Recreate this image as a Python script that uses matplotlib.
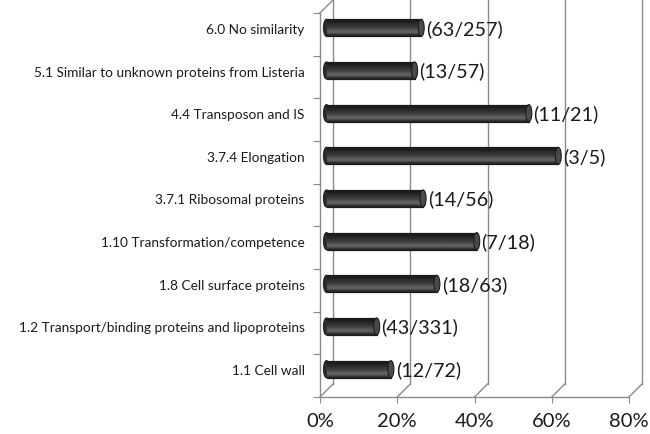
import matplotlib
matplotlib.use('Agg')
import matplotlib.pyplot as plt
import numpy as np
from matplotlib.patches import Ellipse

plt.rcParams['font.family'] = ['Lato', 'DejaVu Sans']

categories = ['1.1 Cell wall',
              '1.2 Transport/binding proteins and lipoproteins',
              '1.8 Cell surface proteins',
              '1.10 Transformation/competence',
              '3.7.1 Ribosomal proteins',
              '3.7.4 Elongation',
              '4.4 Transposon and IS',
              '5.1 Similar to unknown proteins from Listeria',
              '6.0 No similarity']
hits = [12, 43, 18, 7, 14, 3, 11, 13, 63]
totals = [72, 331, 63, 18, 56, 5, 21, 57, 257]
xticks = [0, 20, 40, 60, 80]

pct = [100.0 * h / t for h, t in zip(hits, totals)]
labels = ['(%d/%d)' % (h, t) for h, t in zip(hits, totals)]

W, H = 650, 435
fig = plt.figure(figsize=(6.5, 4.35), dpi=100)
# front floor: x 320..629 px, y 398 px ; top of plot at 2 px
ax = fig.add_axes([320 / W, (H - 398) / H, (629 - 320) / W, (398 - 2) / H])

n = len(categories)
px_per_x = (629 - 320) / 80.0
px_per_y = (398 - 14) / float(n)
dx = 13 / px_per_x     # depth offset (data units)
dy = 13 / px_per_y
ytop = n - 0.5
ybot = -0.5

line_col = '#8a8a8a'
lw = 1.0

# back wall gridlines + floor slants
for xv in xticks:
    if xv == 0:
        continue
    ax.plot([xv + dx, xv + dx], [ybot + dy, ytop + dy + 0.2], color=line_col, lw=lw, clip_on=False, zorder=1)
    ax.plot([xv, xv + dx], [ybot, ybot + dy], color=line_col, lw=lw, clip_on=False, zorder=1)
# back-left wall edge
ax.plot([dx, dx], [ybot + dy, ytop + dy + 0.2], color=line_col, lw=lw, clip_on=False, zorder=1)
ax.plot([0, dx], [ybot, ybot + dy], color=line_col, lw=lw, clip_on=False, zorder=1)
# side wall front edge and top slant
ax.plot([0, 0], [ybot, ytop], color=line_col, lw=lw, clip_on=False, zorder=1)
ax.plot([0, dx], [ytop, ytop + dy], color=line_col, lw=lw, clip_on=False, zorder=1)
# floor front edge
ax.plot([0, 80], [ybot, ybot], color=line_col, lw=lw, clip_on=False, zorder=1)

# bars (cylinders)
bh = 0.40
y = np.arange(n) + dy / 2
left = dx / 2
bars = ax.barh(y, pct, height=bh, left=left, color='#3a3a3a', edgecolor='#1c1c1c', lw=0.8, zorder=3)

shade = np.array([0.14, 0.20, 0.27, 0.34, 0.38, 0.38, 0.35, 0.31, 0.28, 0.25,
                  0.23, 0.21, 0.19, 0.17, 0.15, 0.13, 0.11, 0.10, 0.09, 0.08])
grad = np.tile(shade[::-1, None], (1, 2))
cap_w = 6 / px_per_x
for b, yy, v in zip(bars, y, pct):
    # rounded start
    ax.add_patch(Ellipse((left, yy), cap_w, bh, facecolor='#2e2e2e', edgecolor='#1c1c1c', lw=0.8, zorder=2.9))
    im = ax.imshow(grad, cmap='gray', vmin=0, vmax=1, aspect='auto', interpolation='bilinear',
                   extent=(left, left + v, yy - bh / 2, yy + bh / 2), zorder=3.1)
    im.set_clip_path(b)
    ax.plot([left, left + v], [yy - bh / 2, yy - bh / 2], color='#1c1c1c', lw=0.8, zorder=3.2)
    ax.plot([left, left + v], [yy + bh / 2, yy + bh / 2], color='#1c1c1c', lw=0.8, zorder=3.2)
    ax.add_patch(Ellipse((left + v, yy), cap_w, bh, facecolor='#4a4a4a', edgecolor='#1c1c1c', lw=0.8, zorder=3.3))

for yy, v, lab in zip(y, pct, labels):
    ax.text(left + v + cap_w * 0.8, yy, lab, va='center', ha='left', fontsize=14.2, color='#1a1a1a', zorder=4)

ax.set_xlim(0, 80)
ax.set_ylim(ybot, ytop + (12 / px_per_y))
for s in ax.spines.values():
    s.set_visible(False)

ax.set_xticks(xticks)
ax.set_xticklabels(['%d%%' % v for v in xticks], fontsize=14.5, color='#1a1a1a')
ax.tick_params(axis='x', length=4, color=line_col, pad=7)

ax.set_yticks(np.arange(n + 1) - 0.5)
ax.set_yticklabels([])
ax.tick_params(axis='y', which='major', length=5, color=line_col)
ax.set_yticks(np.arange(n) + dy / 2, minor=True)
ax.set_yticklabels(categories, minor=True, fontsize=9.8, color='#1a1a1a')
ax.tick_params(axis='y', which='minor', length=0, pad=11)

fig.savefig('out.png', dpi=100, facecolor='white')
